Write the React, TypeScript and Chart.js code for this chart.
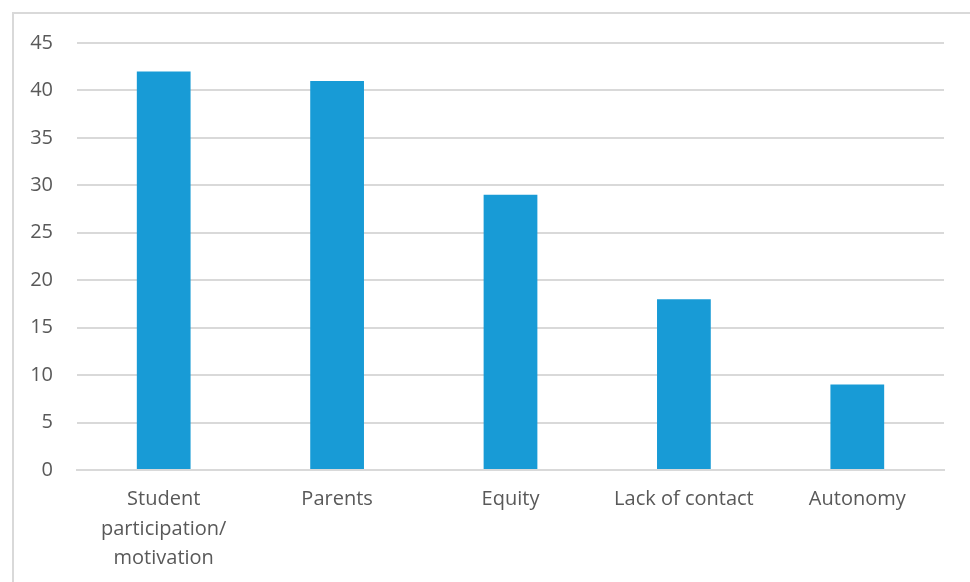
import React, { useEffect, useRef } from "react";
import { Chart, registerables } from "chart.js";

Chart.register(...registerables);

const categories: (string | string[])[] = [
  ["Student", "participation/", "motivation"],
  "Parents",
  "Equity",
  "Lack of contact",
  "Autonomy",
];
const values: number[] = [42, 41, 29, 18, 9];
const yMin = 0;
const yMax = 45;
const yStep = 5;

export default function App() {
  const ref = useRef<HTMLCanvasElement>(null);
  useEffect(() => {
    if (!ref.current) return;
    const chart = new Chart(ref.current, {
      type: "bar",
      data: {
        labels: categories,
        datasets: [
          {
            data: values,
            backgroundColor: "#189BD6",
            borderWidth: 0,
            categoryPercentage: 1,
            barPercentage: 0.31,
          },
        ],
      },
      options: {
        responsive: false,
        animation: false,
        maintainAspectRatio: false,
        layout: { padding: { top: 43, right: 26, left: 0, bottom: 0 } },
        plugins: { legend: { display: false }, tooltip: { enabled: false } },
        scales: {
          x: {
            grid: { display: false, drawTicks: false },
            border: { display: true, color: "#d9d9d9", width: 2 },
            ticks: {
              color: "#595959",
              font: { family: "'Open Sans', sans-serif", size: 20, lineHeight: 1.47 },
              padding: 15,
              maxRotation: 0,
              autoSkip: false,
            },
            afterFit: (s: any) => {
              s.height = 112;
            },
          },
          y: {
            min: yMin,
            max: yMax,
            ticks: {
              stepSize: yStep,
              color: "#595959",
              font: { family: "'Open Sans', sans-serif", size: 20 },
              padding: 24,
            },
            grid: { color: "#d9d9d9", lineWidth: 2, drawTicks: false },
            border: { display: false },
            afterFit: (s: any) => {
              s.width = 77;
            },
          },
        },
      },
    });
    return () => chart.destroy();
  }, []);
  return (
    <div
      style={{
        position: "absolute",
        left: 0,
        top: 0,
        width: 970,
        height: 582,
        overflow: "hidden",
        background: "#fff",
      }}
    >
      <div
        style={{
          position: "absolute",
          left: 12,
          top: 12,
          width: 1000,
          height: 700,
          borderLeft: "2px solid #d9d9d9",
          borderTop: "2px solid #d9d9d9",
        }}
      />
      <canvas
        ref={ref}
        width={970}
        height={582}
        style={{ position: "absolute", left: 0, top: 0, width: 970, height: 582 }}
      />
    </div>
  );
}
